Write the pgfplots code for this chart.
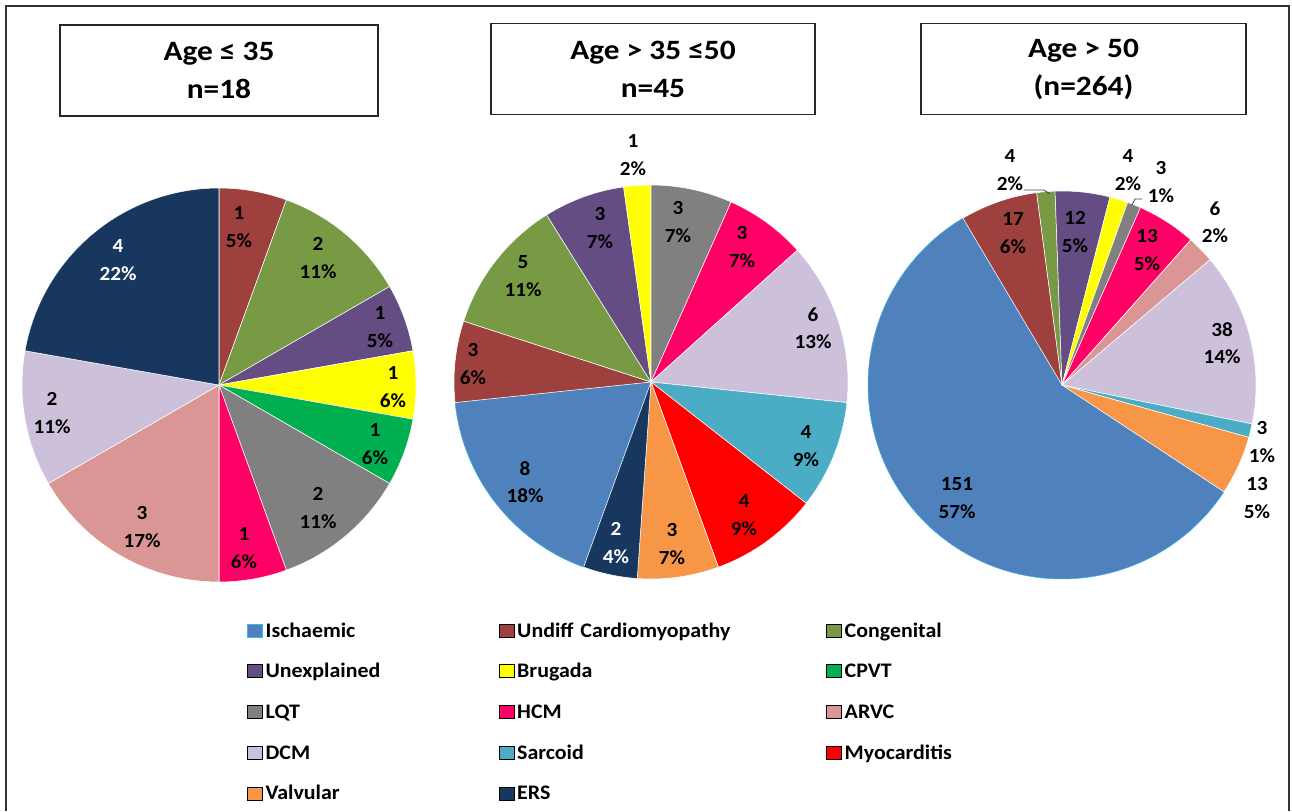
\documentclass[border=0pt]{standalone}
\usepackage{pgfplots}
\pgfplotsset{compat=1.18}
\usepackage{fontspec}
\setmainfont{Carlito}[FakeStretch=1.06]
\newfontfamily\titlefont{Carlito}[FakeStretch=1.12]

\definecolor{isch}{HTML}{4F81BD}
\definecolor{ischedge}{HTML}{3CB4EA}
\definecolor{undiff}{HTML}{9E413E}
\definecolor{cong}{HTML}{789A44}
\definecolor{unexp}{HTML}{634D82}
\definecolor{brug}{HTML}{FFFF00}
\definecolor{cpvt}{HTML}{00B050}
\definecolor{lqt}{HTML}{808080}
\definecolor{hcm}{HTML}{FF0066}
\definecolor{arvc}{HTML}{D99694}
\definecolor{dcm}{HTML}{CCC0DA}
\definecolor{sarc}{HTML}{4BACC6}
\definecolor{myo}{HTML}{FF0000}
\definecolor{valv}{HTML}{F79646}
\definecolor{ers}{HTML}{17375E}

% pie state: centre x, centre y, radius, total, clockwise offset of first slice
\newcommand\setpie[5]{\gdef\piecx{#1}\gdef\piecy{#2}\gdef\pier{#3}\gdef\pietot{#4}\gdef\pierot{#5}\gdef\piecum{0}}
% \slice[edge colour]{fill colour}{count}
\newcommand\slice[3][white]{%
  \pgfmathsetmacro\sa{90-\pierot-(360/\pietot)*\piecum}%
  \pgfmathsetmacro\sb{90-\pierot-(360/\pietot)*(\piecum+#3)}%
  \pgfmathsetmacro\newcum{\piecum+#3}%
  \xdef\piecum{\newcum}%
  \edef\doslice{\noexpand\addplot[forget plot, fill=#2, draw=#1, line width=0.4pt, line join=round, domain=\sb:\sa, samples=90, variable=\noexpand\t] ({\piecx+\pier*cos(\noexpand\t)},{\piecy-\pier*sin(\noexpand\t)}) -- (axis cs:\piecx,\piecy) -- cycle;}%
  \doslice}
\newcommand\labfont{\fontsize{15}{20.5}\selectfont\bfseries}
\newcommand\lab[4][black]{\node[text=#1, font=\labfont, align=center, inner sep=0pt] at (axis cs:#2,#3) {#4};}

\begin{document}
\begin{tikzpicture}
\begin{axis}[
  x=0.75pt, y=0.75pt,
  xmin=0, xmax=1292, ymin=0, ymax=811,
  y dir=reverse,
  hide axis, clip=false,
  legend image code/.code={\path[#1] (0pt,-4.875pt) rectangle (11.25pt,4.875pt);},
  legend columns=3,
  legend cell align=left,
  legend style={at={(axis cs:247,623)}, anchor=north west, draw=none, fill=none,
    inner sep=0pt, outer sep=0pt, row sep=19.3pt,
    font=\fontsize{15.5}{18}\selectfont\bfseries,
    nodes={inner sep=0pt, text height=10.5pt, text depth=0.75pt, font=\fontsize{15.5}{18}\selectfont\bfseries},
    /tikz/every odd column/.style={column sep=2.25pt},
    /tikz/every even column/.style={column sep=0pt},
    /tikz/column 2/.style={nodes={text width=174.75pt}},
    /tikz/column 4/.style={nodes={text width=231.75pt}}},
  legend entries={Ischaemic, Undiff Cardiomyopathy, Congenital, Unexplained, Brugada, CPVT, LQT, HCM, ARVC, DCM, Sarcoid, Myocarditis, Valvular, ERS},
]
\addlegendimage{fill=isch, draw=ischedge, line width=0.5pt}
\addlegendimage{fill=undiff}
\addlegendimage{fill=cong}
\addlegendimage{fill=unexp}
\addlegendimage{fill=brug}
\addlegendimage{fill=cpvt}
\addlegendimage{fill=lqt}
\addlegendimage{fill=hcm}
\addlegendimage{fill=arvc}
\addlegendimage{fill=dcm}
\addlegendimage{fill=sarc}
\addlegendimage{fill=myo}
\addlegendimage{fill=valv}
\addlegendimage{fill=ers}

\path (axis cs:0,0) rectangle (axis cs:1292,811);
% outer frame (bottom edge cut off)
\draw[line width=1.5pt, black!80] (axis cs:6,811) -- (axis cs:6,6) -- (axis cs:1289,6) -- (axis cs:1289,811);

% ---------- Pie 1: Age <= 35, n = 18 (Ischaemic = 0)
\setpie{219}{385}{197}{18}{0}
\slice{undiff}{1}
\slice{cong}{2}
\slice{unexp}{1}
\slice{brug}{1}
\slice{cpvt}{1}
\slice{lqt}{2}
\slice{hcm}{1}
\slice{arvc}{3}
\slice{dcm}{2}
\slice{ers}{4}

% ---------- Pie 2: Age > 35 <= 50, n = 45
\setpie{651}{382}{197}{45}{200}
\slice[ischedge]{isch}{8}
\slice{undiff}{3}
\slice{cong}{5}
\slice{unexp}{3}
\slice{brug}{1}
\slice{lqt}{3}
\slice{hcm}{3}
\slice{dcm}{6}
\slice{sarc}{4}
\slice{myo}{4}
\slice{valv}{3}
\slice{ers}{2}

% ---------- Pie 3: Age > 50, n = 264
\setpie{1062}{385}{194}{264}{123.4}
\slice[ischedge]{isch}{151}
\slice{undiff}{17}
\slice{cong}{4}
\slice{unexp}{12}
\slice{brug}{4}
\slice{lqt}{3}
\slice{hcm}{13}
\slice{arvc}{6}
\slice{dcm}{38}
\slice{sarc}{3}
\slice{valv}{13}

% ---------- data labels, pie 1
\lab{239}{227}{1\\5\%}
\lab{318}{258}{2\\11\%}
\lab{380}{327}{1\\5\%}
\lab{393}{387}{1\\6\%}
\lab{375}{444}{1\\6\%}
\lab{318}{508}{2\\11\%}
\lab{244}{548}{1\\6\%}
\lab{142}{527}{3\\17\%}
\lab{52}{413}{2\\11\%}
\lab[white]{118}{260}{4\\22\%}

% ---------- data labels, pie 2
\lab{525}{482}{8\\18\%}
\lab{473}{364}{3\\6\%}
\lab{523}{276}{5\\11\%}
\lab{600}{228}{3\\7\%}
\lab{633}{155}{1\\2\%}
\lab{678}{222}{3\\7\%}
\lab{742}{247}{3\\7\%}
\lab{813}{328}{6\\13\%}
\lab{806}{446}{4\\9\%}
\lab{744}{515}{4\\9\%}
\lab{672}{544}{3\\7\%}
\lab[white]{616}{543}{2\\4\%}

% ---------- data labels, pie 3
\lab{957}{498}{151\\57\%}
\lab{1013}{233}{17\\6\%}
\lab{1010}{170}{4\\2\%}
\lab{1075}{232}{12\\5\%}
\lab{1128}{170}{4\\2\%}
\lab{1161}{182}{3\\1\%}
\lab{1147}{250}{13\\5\%}
\lab{1215}{222}{6\\2\%}
\lab{1222}{343}{38\\14\%}
\lab{1262}{442}{3\\1\%}
\lab{1257}{498}{13\\5\%}
\draw[black!75, line width=0.6pt] (axis cs:1024,190) -- (axis cs:1044,190) -- (axis cs:1050,194);
\draw[black!75, line width=0.6pt] (axis cs:1142,199) -- (axis cs:1135,199) -- (axis cs:1132,205);

% ---------- title boxes
\node[draw=black!85, line width=1pt, minimum width=238.5pt, minimum height=68.25pt, inner sep=0pt, align=center,
  font=\titlefont\fontsize{21}{28.5}\selectfont\bfseries] at (axis cs:219,70.5) {Age ≤ 35\\n=18};
\node[draw=black!85, line width=1pt, minimum width=243pt, minimum height=68.25pt, inner sep=0pt, align=center,
  font=\titlefont\fontsize{21}{28.5}\selectfont\bfseries] at (axis cs:653,69) {Age > 35 ≤50\\n=45};
\node[draw=black!85, line width=1pt, minimum width=243.75pt, minimum height=68.25pt, inner sep=0pt, align=center,
  font=\titlefont\fontsize{21}{28.5}\selectfont\bfseries] at (axis cs:1083.5,69) {Age > 50\\(n=264)};
\end{axis}
\end{tikzpicture}
\end{document}
